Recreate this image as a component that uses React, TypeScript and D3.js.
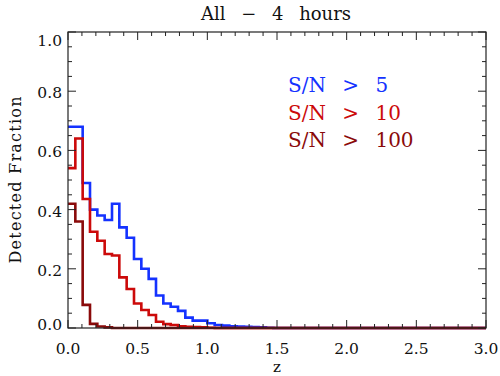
import React from "react";
import * as d3 from "d3";

const title = "All \u2212 4 hours";
const xLabel = "z";
const yLabel = "Detected Fraction";
const xTicks = [0, 0.5, 1.0, 1.5, 2.0, 2.5, 3.0];
const yTicks = [0, 0.2, 0.4, 0.6, 0.8, 1.0];
const nBins = 57;
const zMax = 3;

const seriesNames = ["S/N > 5", "S/N > 10", "S/N > 100"];
const seriesColors = ["#1432ff", "#cc0a0a", "#8a0a0a"];

const sn5 = [0.68, 0.68, 0.49, 0.40, 0.38, 0.365, 0.42, 0.34, 0.305, 0.233, 0.20, 0.166, 0.11, 0.083, 0.072, 0.058, 0.035, 0.025, 0.025, 0.016, 0.010, 0.008, 0.006, 0.005, 0.004, 0.003, 0.002, 0.001];
const sn10 = [0.54, 0.64, 0.436, 0.325, 0.295, 0.25, 0.245, 0.171, 0.132, 0.083, 0.061, 0.044, 0.021, 0.013, 0.010, 0.006, 0.004, 0.003, 0.002, 0.001];
const sn100 = [0.42, 0.36, 0.078, 0.014, 0.005, 0.002];

const seriesValues = [sn5, sn10, sn100];

const W = 500, H = 376;
const M = { left: 68, right: 14, top: 32, bottom: 48 };

export default function App() {
  const x = d3.scaleLinear().domain([0, zMax]).range([M.left, W - M.right]);
  const y = d3.scaleLinear().domain([0, 1]).range([H - M.bottom, M.top]);
  const bw = zMax / nBins;
  const font = "'DejaVu Serif', serif";
  const axisColor = "#222";

  const stepPath = (vals: number[]) => {
    const pts: [number, number][] = [];
    for (let i = 0; i < nBins; i++) {
      const v = i < vals.length ? vals[i] : 0;
      pts.push([i * bw, v]);
      pts.push([(i + 1) * bw, v]);
    }
    return d3.line<[number, number]>().x((d) => x(d[0])).y((d) => y(d[1]))(pts) || "";
  };

  const xMinor = d3.range(0, zMax + 1e-9, 0.1);
  const yMinor = d3.range(0, 1 + 1e-9, 0.05);
  const isMajor = (v: number, step: number) => Math.abs(v / step - Math.round(v / step)) < 1e-6;

  const x0 = M.left, x1 = W - M.right, y0 = H - M.bottom, y1 = M.top;

  return (
    <svg width={W} height={H} style={{ position: "absolute", left: 0, top: 0, background: "#fff" }}>
      <rect x={0} y={0} width={W} height={H} fill="#fff" />
      <text x={276} y={20} textAnchor="middle" fontFamily={font} fontSize={18} wordSpacing={10} fill="#111">{title}</text>
      {seriesValues.map((vals, i) => (
        <path key={i} d={stepPath(vals)} fill="none" stroke={seriesColors[i]} strokeWidth={2.6} strokeLinejoin="miter" />
      ))}
      <rect x={x0} y={y1} width={x1 - x0} height={y0 - y1} fill="none" stroke={axisColor} strokeWidth={1.2} />
      {xMinor.map((v, i) => {
        const L = isMajor(v, 0.5) ? 8 : 4;
        return (
          <g key={"xm" + i}>
            <line x1={x(v)} x2={x(v)} y1={y0} y2={y0 - L} stroke={axisColor} strokeWidth={1} />
            <line x1={x(v)} x2={x(v)} y1={y1} y2={y1 + L} stroke={axisColor} strokeWidth={1} />
          </g>
        );
      })}
      {yMinor.map((v, i) => {
        const L = isMajor(v, 0.2) ? 8 : 4;
        return (
          <g key={"ym" + i}>
            <line x1={x0} x2={x0 + L} y1={y(v)} y2={y(v)} stroke={axisColor} strokeWidth={1} />
            <line x1={x1} x2={x1 - L} y1={y(v)} y2={y(v)} stroke={axisColor} strokeWidth={1} />
          </g>
        );
      })}
      {xTicks.map((v) => (
        <text key={"xt" + v} x={x(v)} y={354} textAnchor="middle" fontFamily={font} fontSize={15.5} fill="#111">{v.toFixed(1)}</text>
      ))}
      {yTicks.map((v) => {
        const c = Math.min(Math.max(y(v) + 1.5, y1 + 8), y0 - 4);
        return (
          <text key={"yt" + v} x={62} y={c} dy="0.36em" textAnchor="end" fontFamily={font} fontSize={15.5} fill="#111">{v.toFixed(1)}</text>
        );
      })}
      <text x={x((0 + zMax) / 2)} y={372} textAnchor="middle" fontFamily={font} fontSize={15} fill="#111">{xLabel}</text>
      <text transform={`translate(21,${(y0 + y1) / 2}) rotate(-90)`} textAnchor="middle" fontFamily={font} fontSize={16} textLength={167} lengthAdjust="spacing" fill="#111">{yLabel}</text>
      {seriesNames.map((n, i) => (
        <text key={n} x={288} y={92 + i * 27.5} fontFamily={font} fontSize={20} wordSpacing={10} fill={seriesColors[i]}>{n}</text>
      ))}
    </svg>
  );
}
